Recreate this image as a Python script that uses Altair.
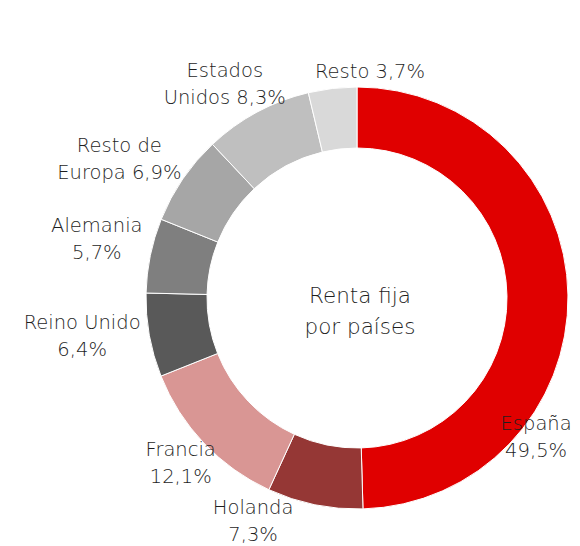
import altair as alt
import pandas as pd

countries = ["España", "Holanda", "Francia", "Reino Unido", "Alemania",
             "Resto de Europa", "Estados Unidos", "Resto"]
shares = [49.5, 7.3, 12.1, 6.4, 5.7, 6.9, 8.3, 3.7]
label_text = ["España\n49,5%", "Holanda\n7,3%", "Francia\n12,1%", "Reino Unido\n6,4%",
              "Alemania\n5,7%", "Resto de\nEuropa 6,9%", "Estados\nUnidos 8,3%", "Resto 3,7%"]
colors = ["#E00000", "#953735", "#D99694", "#595959", "#7F7F7F",
          "#A6A6A6", "#BFBFBF", "#D9D9D9"]

# label layout: polar offset of each label's first line from the donut centre
# (radians clockwise from north, pixels)
label_theta = [2.1841, -2.6816, -2.2835, -1.6615, -1.3002, -1.0025, -0.5268, 0.0575]
label_radius = [219, 234, 233, 276, 270, 282, 263, 226]

df = pd.DataFrame({
    "pais": countries,
    "valor": shares,
    "orden": list(range(len(countries))),
    "etiqueta": label_text,
    "lt": label_theta,
    "lr": label_radius,
})

CX, CY = 349, 290
FONT = "DejaVu Sans"

arcs = alt.Chart(df).mark_arc(
    outerRadius=211, innerRadius=150, stroke="white", strokeWidth=1
).encode(
    theta=alt.Theta("valor:Q", stack=True),
    order=alt.Order("orden:Q"),
    color=alt.Color("pais:N", scale=alt.Scale(domain=countries, range=colors), legend=None),
    x=alt.value(CX),
    y=alt.value(CY),
)

labels = alt.Chart(df).mark_text(
    font=FONT, fontSize=19.5, fontWeight=200, color="#1e1e1e",
    align="center", baseline="middle", lineHeight=27, lineBreak="\n"
).encode(
    text="etiqueta:N",
    theta=alt.Theta("lt:Q", scale=None),
    radius=alt.Radius("lr:Q", scale=None),
    x=alt.value(CX),
    y=alt.value(CY),
)

center = alt.Chart(pd.DataFrame({"t": ["Renta fija\npor países"]})).mark_text(
    font=FONT, fontSize=21.5, fontWeight=200, color="#1e1e1e",
    align="center", baseline="middle", lineHeight=31, lineBreak="\n"
).encode(
    text="t:N",
    x=alt.value(CX + 3),
    y=alt.value(CY - 1),
)

chart = alt.layer(arcs, labels, center).properties(
    width=564, height=538, padding=0, autosize=alt.AutoSizeParams(type="none")
).configure_view(stroke=None)

chart.save("out.html", embed_options={"renderer": "svg", "actions": False})
